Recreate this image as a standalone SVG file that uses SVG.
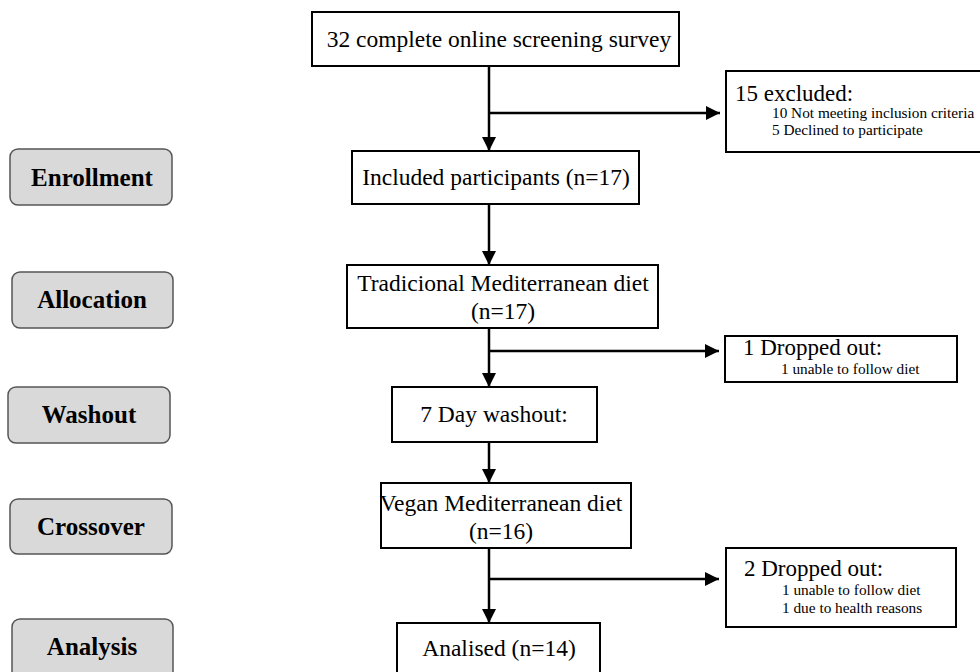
<svg xmlns="http://www.w3.org/2000/svg" width="980" height="672" viewBox="0 0 980 672">
<defs>
<marker id="ah" viewBox="0 0 10 10" refX="10" refY="5" markerWidth="14" markerHeight="14" markerUnits="userSpaceOnUse" orient="auto">
<path d="M0,0 L10,5 L0,10 z" fill="#000"/>
</marker>
<style>
.box{fill:#fff;stroke:#000;stroke-width:2}
.phase{fill:#d9d9d9;stroke:#555;stroke-width:1.5}
.t{font-family:"Liberation Serif","Times New Roman",serif;font-size:23.5px;fill:#000;text-anchor:middle}
.tl{font-family:"Liberation Serif","Times New Roman",serif;font-size:23px;fill:#000}
.s{font-family:"Liberation Serif","Times New Roman",serif;font-size:15.3px;fill:#000}
.p{font-family:"Liberation Serif","Times New Roman",serif;font-size:25px;font-weight:bold;fill:#000;text-anchor:middle}
.c{fill:none;stroke:#000;stroke-width:2.5}
</style>
</defs>
<rect width="980" height="672" fill="#fff"/>
<g id="phase-enrollment"><rect class="phase" x="10" y="149" width="162" height="56" rx="8"/><text class="p" x="92" y="186">Enrollment</text></g>
<g id="phase-allocation"><rect class="phase" x="12" y="272" width="161" height="56" rx="8"/><text class="p" x="92" y="308">Allocation</text></g>
<g id="phase-washout"><rect class="phase" x="8" y="387" width="162" height="56" rx="8"/><text class="p" x="89" y="423">Washout</text></g>
<g id="phase-crossover"><rect class="phase" x="10" y="499" width="162" height="55" rx="8"/><text class="p" x="91" y="535">Crossover</text></g>
<g id="phase-analysis"><rect class="phase" x="12" y="619" width="161" height="60" rx="8"/><text class="p" x="92" y="655">Analysis</text></g>

<g id="screening"><rect class="box" x="312" y="12" width="367" height="54"/><text class="t" x="499" y="47">32 complete online screening survey</text></g>
<g id="excluded"><rect class="box" x="726" y="71" width="262" height="81"/>
<text class="tl" x="735" y="101">15 excluded:</text>
<text class="s" x="772" y="118">10 Not meeting inclusion criteria</text>
<text class="s" x="772" y="135">5 Declined to participate</text></g>
<g id="included"><rect class="box" x="352" y="151" width="287" height="53"/><text class="t" x="496" y="185">Included participants (n=17)</text></g>
<g id="traditional"><rect class="box" x="347" y="265" width="311" height="63"/><text class="t" x="503" y="291">Tradicional Mediterranean diet</text><text class="t" x="503" y="319">(n=17)</text></g>
<g id="dropped1"><rect class="box" x="725" y="336" width="232" height="46"/>
<text class="tl" x="743" y="355">1 Dropped out:</text>
<text class="s" x="781" y="374">1 unable to follow diet</text></g>
<g id="washout"><rect class="box" x="392" y="387" width="205" height="55"/><text class="t" x="494" y="422">7 Day washout:</text></g>
<g id="vegan"><rect class="box" x="381" y="483" width="250" height="65"/><text class="t" x="501" y="511">Vegan Mediterranean diet</text><text class="t" x="501" y="539">(n=16)</text></g>
<g id="dropped2"><rect class="box" x="726" y="548" width="230" height="79"/>
<text class="tl" x="744" y="576">2 Dropped out:</text>
<text class="s" x="782" y="595">1 unable to follow diet</text>
<text class="s" x="782" y="613">1 due to health reasons</text></g>
<g id="analised"><rect class="box" x="397" y="623" width="203" height="60"/><text class="t" x="499" y="656">Analised (n=14)</text></g>

<g id="connectors">
<path class="c" d="M489,66 V151" marker-end="url(#ah)"/>
<path class="c" d="M489,113 H720" marker-end="url(#ah)"/>
<path class="c" d="M489,204 V265" marker-end="url(#ah)"/>
<path class="c" d="M489,328 V387" marker-end="url(#ah)"/>
<path class="c" d="M489,351 H719" marker-end="url(#ah)"/>
<path class="c" d="M489,442 V483" marker-end="url(#ah)"/>
<path class="c" d="M489,548 V623" marker-end="url(#ah)"/>
<path class="c" d="M489,579 H719" marker-end="url(#ah)"/>
</g>
</svg>
